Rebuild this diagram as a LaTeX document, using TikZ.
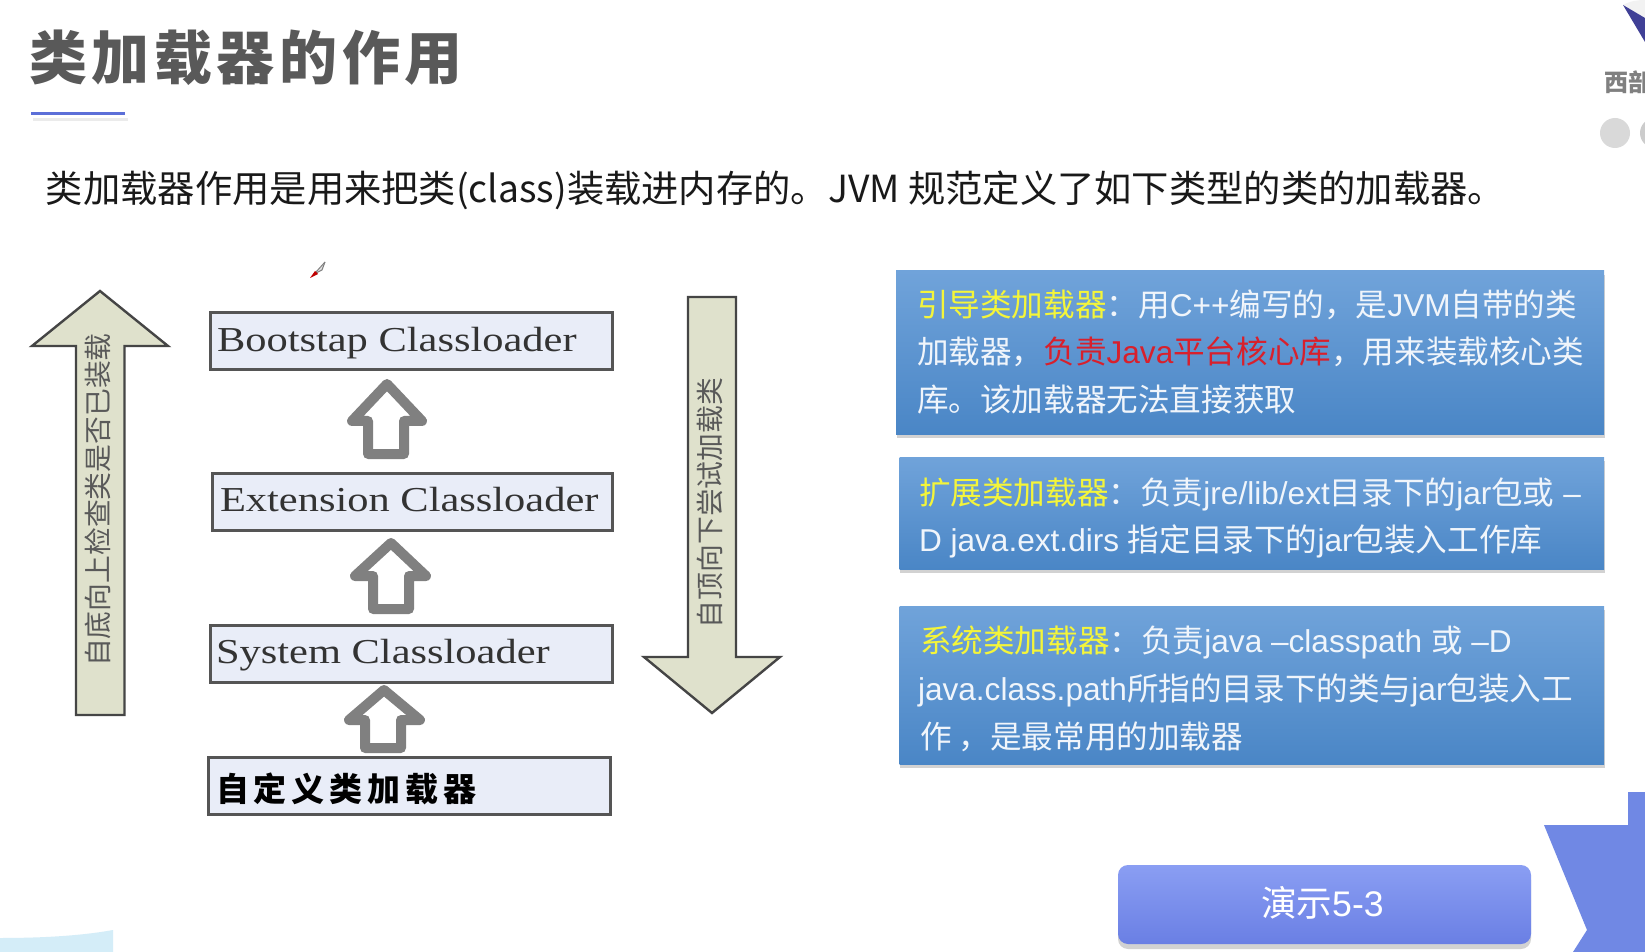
\documentclass[tikz,border=0pt]{standalone}
\usepackage{fontspec}
\setmainfont{Liberation Sans}
\newfontfamily\cjk{Noto Sans CJK SC}
\newfontfamily\titlefont[LetterSpace=8]{Noto Sans CJK SC}
\newfontfamily\customfont[LetterSpace=15]{Noto Sans CJK SC}
\newfontfamily\boxfont[FakeStretch=1.213]{Liberation Serif}
\newcommand\zh[1]{{\cjk #1}}
\definecolor{arrowfill}{HTML}{DFE1CC}
\definecolor{arrowline}{HTML}{454545}
\definecolor{boxfill}{HTML}{E9EDF8}
\definecolor{boxline}{HTML}{555555}
\definecolor{bluetop}{HTML}{70A3DA}
\definecolor{bluebot}{HTML}{4A86C6}
\definecolor{btntop}{HTML}{8A9EF3}
\definecolor{btnbot}{HTML}{6A7FE4}
\definecolor{decor}{HTML}{7088E4}
\definecolor{hollow}{HTML}{808080}
\definecolor{keyyellow}{HTML}{F4F53A}
\definecolor{keyred}{HTML}{D8202C}
\definecolor{boxtext}{HTML}{F0F5FB}
\definecolor{paleblue}{HTML}{D4EDF8}
\definecolor{rulecolor}{HTML}{5C6FD8}
\tikzset{
  x=0.5pt,y=-0.5pt,
  txt/.style={inner sep=0pt,outer sep=0pt,anchor=base west},
  loaderbox/.style={anchor=north west,inner sep=0pt,outer sep=0pt,draw=boxline,line width=1.5pt,fill=boxfill},
  loadertext/.style={txt,text=black!80,font=\boxfont\fontsize{17.5}{20}\selectfont},
  bluebox/.style={anchor=north west,inner sep=0pt,outer sep=0pt,top color=bluetop,bottom color=bluebot},
  bluetext/.style={txt,text=boxtext,font=\fontsize{15.8}{20}\selectfont},
  bigarrow/.style={draw=arrowline,line width=1.2pt,fill=arrowfill,line join=miter},
  hollowarrow/.style={draw=hollow,line width=5pt,fill=white,line join=round},
  arrowtext/.style={inner sep=0pt,outer sep=0pt,rotate=90,text=black!65,font=\cjk\fontsize{13.9}{16}\selectfont},
  softshadow/.style={fill=black!50,opacity=.35},
}
\begin{document}
\begin{tikzpicture}
\clip (0,0) rectangle (1645,952);
\fill[white] (0,0) rectangle (1645,952);
% decorations
\fill[decor] (1544,825) -- (1628,825) -- (1628,792) -- (1645,792) -- (1645,952) -- (1573,952) -- (1587,930) -- cycle;
\fill[paleblue] (0,938) .. controls (40,938) and (80,936) .. (113,930) -- (113,952) -- (0,952) -- cycle;
\fill[black!5] (1623,5) .. controls (1630,1) and (1638,0) .. (1645,0) -- (1645,18) -- cycle;
\fill[blue!45!black!75!white] (1623,5) -- (1645,18) -- (1645,42) -- cycle;
\node[txt,text=black!50,font=\cjk\bfseries\fontsize{12}{14}\selectfont] (logo) at (1604,92) {西部};
\fill[black!15] (1615,133) circle (15);
\fill[black!20] (1655,133) circle (15);
% title
\node[txt,text=black!65,font=\titlefont\bfseries\fontsize{29}{32}\selectfont] (title) at (29,80) {类加载器的作用};
\fill[black!8] (33,118) rectangle (128,121);
\fill[rulecolor] (31,112) rectangle (125,115.5);
\node[txt,text=black!90,font=\cjk\fontsize{18.65}{22}\selectfont] (sub) at (46,203) {类加载器作用是用来把类(class)装载进内存的。JVM 规范定义了如下类型的类的加载器。};
% pen mark
\fill[black!12] (325,262) -- (322,270) -- (316,273) -- (320,268) -- cycle;
\draw[black!50,line width=.5pt] (325,262) -- (322,270) -- (316,273);
\draw[black!50,line width=.5pt] (325,262) -- (316,272);
\fill[red!75!black] (315,271) -- (318,274) -- (310,278) -- cycle;
% big arrows
\draw[bigarrow] (100,291) -- (168,346) -- (124.5,346) -- (124.5,715) -- (76,715) -- (76,346) -- (32,346) -- cycle;
\node[arrowtext] (uplabel) at (98,500) {自底向上检查类是否已装载};
\draw[bigarrow] (688,297) -- (736,297) -- (736,657) -- (780,657) -- (712,713) -- (644,657) -- (688,657) -- cycle;
\node[arrowtext] (downlabel) at (710,503) {自顶向下尝试加载类};
% loader boxes
\node[loaderbox,minimum width=201pt,minimum height=28.5pt] (boot) at (210,313) {};
\node[loaderbox,minimum width=200pt,minimum height=28.5pt] (ext) at (212,473) {};
\node[loaderbox,minimum width=201pt,minimum height=28.5pt] (sys) at (210,625) {};
\node[loaderbox,minimum width=201pt,minimum height=28.5pt] (cust) at (208,757) {};
\node[loadertext] (bootl) at (217,352) {Bootstap Classloader};
\node[loadertext] (extl) at (220,511) {Extension Classloader};
\node[loadertext] (sysl) at (216,663) {System Classloader};
\node[txt,text=black,font=\customfont\bfseries\fontsize{16.5}{18}\selectfont] (custl) at (216,801) {自定义类加载器};
% hollow arrows
\draw[hollowarrow] (387,384) -- (422,421) -- (404,421) -- (404,454) -- (368,454) -- (368,421) -- (352,421) -- cycle;
\draw[hollowarrow] (391,543) -- (426,576) -- (409,576) -- (409,609) -- (373,609) -- (373,576) -- (355,576) -- cycle;
\draw[hollowarrow] (384,690) -- (420,720) -- (401,720) -- (401,748) -- (365,748) -- (365,720) -- (349,720) -- cycle;
% blue boxes
\fill[softshadow] (897,275) rectangle (1605,438);
\fill[softshadow] (900,461) rectangle (1605,573);
\fill[softshadow] (900,610) rectangle (1605,768);
\node[bluebox,minimum width=354pt,minimum height=81.5pt] (b1) at (896,271) {};
\node[bluebox,minimum width=352.25pt,minimum height=56pt] (b2) at (899.5,457) {};
\node[bluebox,minimum width=352.25pt,minimum height=79pt] (b3) at (899.5,606) {};
\node[bluetext] (b1a) at (917,317) {\zh{\textcolor{keyyellow}{引导类加载器}：用}C++\zh{编写的，是}JVM\zh{自带的类}};
\node[bluetext] (b1b) at (917,364) {\zh{加载器，}\textcolor{keyred}{\zh{负责}Java\zh{平台核心库}}\zh{，用来装载核心类}};
\node[bluetext] (b1c) at (917,412) {\zh{库。该加载器无法直接获取}};
\node[bluetext] (b2a) at (919,504) {\zh{\textcolor{keyyellow}{扩展类加载器}：负责}jre/lib/ext\zh{目录下的}jar\zh{包或} –};
\node[bluetext] (b2b) at (919,551) {D java.ext.dirs \zh{指定目录下的}jar\zh{包装入工作库}};
\node[bluetext] (b3a) at (920,652) {\zh{\textcolor{keyyellow}{系统类加载器}：负责}java –classpath \zh{或} –D};
\node[bluetext] (b3b) at (918,700) {java.class.path\zh{所指的目录下的类与}jar\zh{包装入工}};
\node[bluetext] (b3c) at (920,748) {\zh{作 ，是最常用的加载器}};
% demo button
\fill[softshadow,rounded corners=5pt] (1118,870) rectangle (1531,949);
\node[anchor=north west,inner sep=0pt,outer sep=0pt,rounded corners=5pt,top color=btntop,bottom color=btnbot,minimum width=206.5pt,minimum height=39.5pt] (demo) at (1118,865) {};
\node[txt,text=white,font=\fontsize{17.8}{20}\selectfont] (demol) at (1261,916) {\zh{演示}5-3};
\end{tikzpicture}
\end{document}
